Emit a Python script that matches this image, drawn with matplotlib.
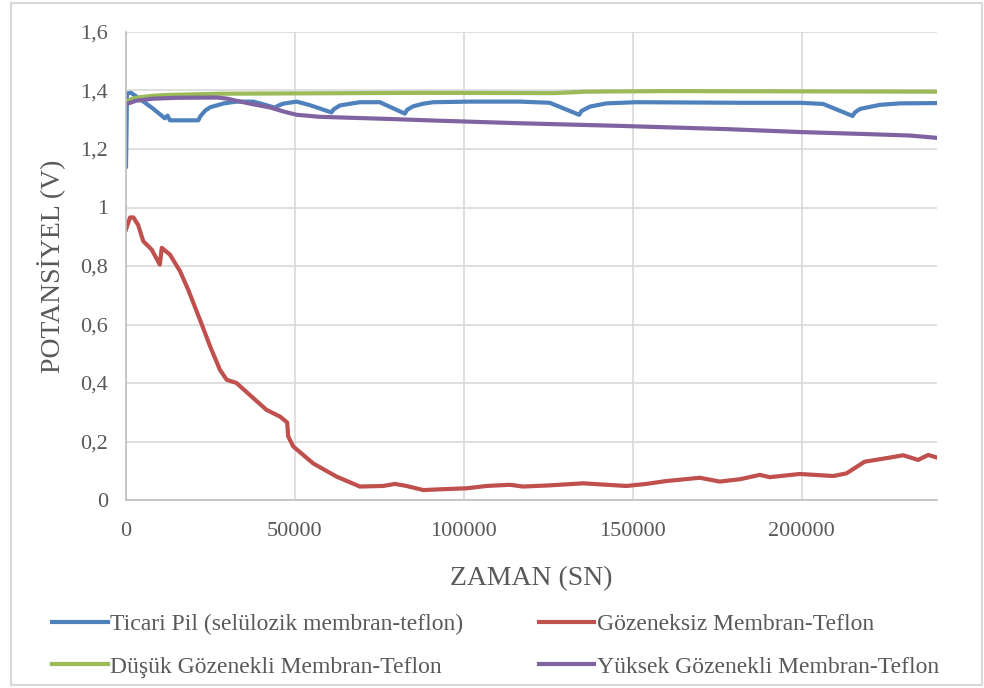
import numpy as np
import matplotlib
matplotlib.use("Agg")
import matplotlib.pyplot as plt
from matplotlib.patches import Rectangle
from matplotlib.ticker import FuncFormatter

# values (time in s, potential in V)
ticari_x = [0, 300, 1500, 4000, 8000, 11500, 12300, 13000, 21400, 22000, 23500, 25000,
            29000, 32700, 37700, 40600, 44100, 45000, 46500, 50500, 54400, 60800, 61500,
            63300, 69200, 75100, 82500, 83200, 85000, 88000, 90900, 101800, 116600, 125400,
            134100, 134800, 137300, 142200, 151000, 181700, 199400, 206300, 215000, 215700,
            217200, 223100, 229000, 240000]
ticari_y = [1.14, 1.39, 1.392, 1.372, 1.338, 1.305, 1.314, 1.298, 1.298, 1.312, 1.332, 1.343,
            1.356, 1.362, 1.362, 1.353, 1.341, 1.348, 1.355, 1.362, 1.35, 1.325, 1.336,
            1.349, 1.36, 1.36, 1.321, 1.334, 1.346, 1.355, 1.36, 1.362, 1.362, 1.358,
            1.317, 1.33, 1.345, 1.356, 1.36, 1.358, 1.358, 1.354, 1.313, 1.325,
            1.337, 1.351, 1.356, 1.357]

gozeneksiz_x = [0, 1200, 2200, 3600, 5100, 7600, 10000, 10600, 13000, 16000, 18400, 21900,
                24900, 27800, 29800, 32700, 37700, 41600, 45600, 47700, 48000, 49500, 55400,
                62300, 69200, 76100, 79600, 83000, 88000, 93900, 100800, 106700, 113600,
                117500, 125400, 135300, 145200, 148100, 154000, 160000, 169800, 175700,
                181700, 187600, 190500, 199400, 209300, 213200, 218600, 225000, 230000,
                234400, 237400, 240000]
gozeneksiz_y = [0.925, 0.966, 0.966, 0.94, 0.885, 0.856, 0.805, 0.862, 0.839, 0.782, 0.719,
                0.616, 0.525, 0.445, 0.411, 0.40, 0.348, 0.308, 0.285, 0.265, 0.217, 0.183,
                0.125, 0.08, 0.046, 0.048, 0.055, 0.048, 0.034, 0.037, 0.04, 0.048, 0.052,
                0.046, 0.05, 0.057, 0.05, 0.048, 0.055, 0.065, 0.076, 0.063, 0.071, 0.086,
                0.078, 0.089, 0.082, 0.091, 0.131, 0.143, 0.153, 0.137, 0.154, 0.145]

dusuk_x = [0, 2000, 4100, 8000, 13000, 27800, 87000, 127000, 136000, 160000, 200000, 240000]
dusuk_y = [1.362, 1.372, 1.377, 1.382, 1.385, 1.389, 1.392, 1.391, 1.396, 1.398, 1.397, 1.396]

yuksek_x = [0, 3000, 8000, 15000, 27000, 30000, 33000, 38000, 42600, 47000, 50500, 57400,
            77100, 91900, 116600, 146200, 177700, 199400, 219200, 232000, 240000]
yuksek_y = [1.353, 1.365, 1.372, 1.375, 1.376, 1.372, 1.364, 1.352, 1.342, 1.327, 1.317,
            1.31, 1.303, 1.297, 1.288, 1.279, 1.268, 1.258, 1.251, 1.246, 1.238]

labels = ["Ticari Pil (selülozik membran-teflon)", "Gözeneksiz Membran-Teflon",
          "Düşük Gözenekli Membran-Teflon", "Yüksek Gözenekli Membran-Teflon"]
colors = ["#4F81BD", "#C0504D", "#9BBB59", "#8064A2"]

plt.rcParams["font.family"] = ["Liberation Serif", "DejaVu Serif"]
TXT = "#595959"

fig = plt.figure(figsize=(9.84, 6.88), dpi=100)
ax = fig.add_axes([126 / 984, 1 - 500 / 688, (937 - 126) / 984, (500 - 32) / 688])

series = [(ticari_x, ticari_y), (gozeneksiz_x, gozeneksiz_y),
          (dusuk_x, dusuk_y), (yuksek_x, yuksek_y)]
lines = []
for (x, y), lab, c in zip(series, labels, colors):
    ln, = ax.plot(x, y, color=c, linewidth=3.0, label=lab, solid_joinstyle="round")
    lines.append(ln)

ax.set_xlim(0, 240000)
ax.set_ylim(0, 1.6)
ax.set_xticks([0, 50000, 100000, 150000, 200000])
ax.set_yticks(np.arange(0, 1.61, 0.2))
ax.yaxis.set_major_formatter(FuncFormatter(
    lambda v, p: "0" if abs(v) < 1e-9 else (("%.1f" % v).replace(".", ",").rstrip("0").rstrip(","))))
ax.xaxis.set_major_formatter(FuncFormatter(lambda v, p: "%d" % v))
ax.grid(True, color="#d9d9d9", linewidth=1.2)
ax.set_axisbelow(True)
for s in ["top", "right"]:
    ax.spines[s].set_visible(False)
for s in ["left", "bottom"]:
    ax.spines[s].set_color("#bfbfbf")
    ax.spines[s].set_linewidth(1.2)
ax.tick_params(length=0, labelsize=16, colors=TXT, pad=13)
ax.tick_params(axis="x", pad=16)
ax.set_xlabel("ZAMAN (SN)", fontsize=20, color=TXT, labelpad=18)
ax.set_ylabel("POTANSİYEL (V)", fontsize=20, color=TXT, labelpad=10)

# legend rows: Ticari / Gözeneksiz, then Düşük / Yüksek
order = [0, 2, 1, 3]
fig.legend([lines[i] for i in order], [labels[i] for i in order],
           loc="upper left", bbox_to_anchor=(31 / 984, 1 - 592 / 688), ncol=2,
           frameon=False, fontsize=17, handlelength=2.35, handletextpad=0.1,
           columnspacing=3.2, labelspacing=0.9, labelcolor=TXT)

fig.patches.append(Rectangle((11 / 984, 3 / 688), 971 / 984, 682 / 688,
                             transform=fig.transFigure, fill=False,
                             edgecolor="#d9d9d9", linewidth=1.5))

fig.savefig("out.png", dpi=100)
